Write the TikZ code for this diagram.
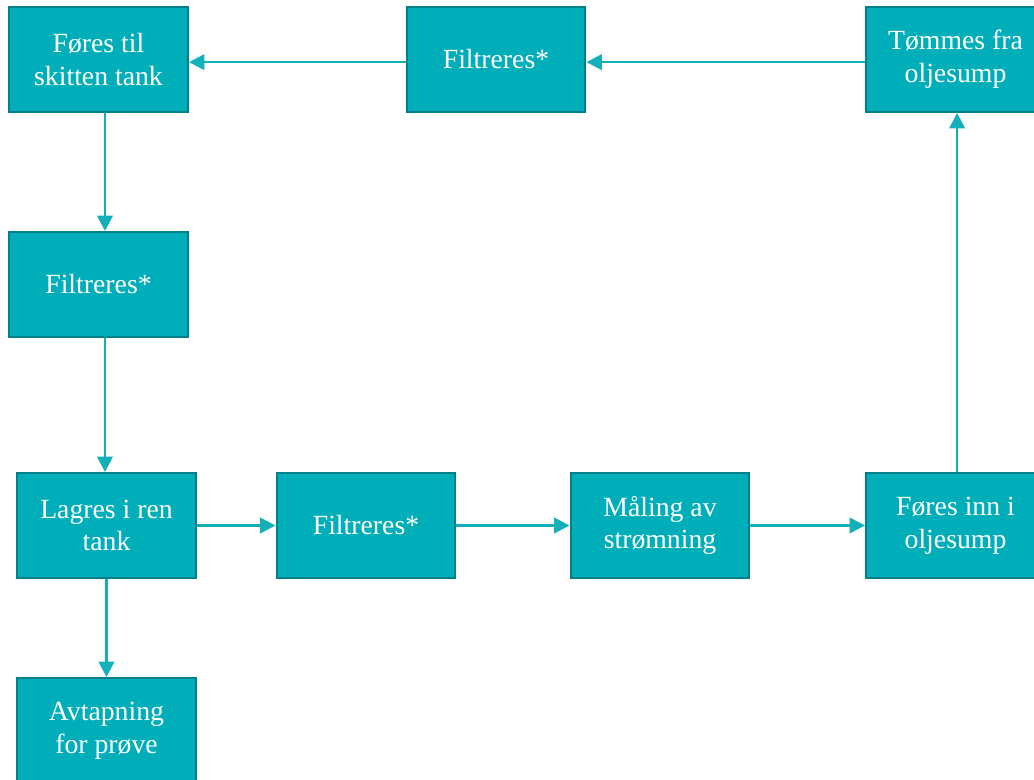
\documentclass[tikz,border=0pt]{standalone}
\usepackage{fontspec}
\setmainfont{Liberation Serif}
\definecolor{boxFill}{RGB}{0,174,185}
\definecolor{boxEdge}{RGB}{0,128,137}
\definecolor{flowLine}{RGB}{20,176,186}
\usetikzlibrary{arrows.meta,positioning}

\begin{document}
\begin{tikzpicture}[x=0.75pt,y=-0.75pt,
    box/.style={rectangle, draw=boxEdge, line width=1.7pt, fill=boxFill,
      text=white, minimum width=134pt, minimum height=78.5pt, inner sep=0pt,
      align=center, font=\fontsize{20.8}{24.5}\selectfont},
    flow/.style={-{Triangle[length=11.5pt,width=11.5pt]}, flowLine, line width=1.9pt}]
    % Frame
    \clip (0,0) rectangle (1034,780);
    \fill[white] (0,0) rectangle (1034,780);
    % Top row
    \node[box] (skitten) at (98.5,59.5) {Føres til\\skitten tank};
    \node[box] (filtTop) at (496,59.5) {Filtreres*};
    \node[box] (tommes) at (955.5,59.5) {Tømmes fra\\oljesump};
    % Left column
    \node[box] (filtLeft) at (98.5,284.5) {Filtreres*};
    \node[box] (lagres) at (106.5,525.5) {Lagres i ren\\tank};
    \node[box] (avtap) at (106.5,730.5) {Avtapning\\for prøve};
    % Bottom row
    \node[box] (filtMid) at (366,525.5) {Filtreres*};
    \node[box] (maling) at (660,525.5) {Måling av\\strømning};
    \node[box] (inn) at (955.5,525.5) {Føres inn i\\oljesump};
    % Flow
    \draw[flow] (lagres) -- (filtMid);
    \draw[flow] (filtMid) -- (maling);
    \draw[flow] (maling) -- (inn);
    \draw[flow] ([xshift=1.2pt]inn.north) -- ([xshift=1.2pt]tommes.south);
    \draw[flow] ([yshift=-2pt]tommes.west) -- ([yshift=-2pt]filtTop.east);
    \draw[flow] ([yshift=-2pt]filtTop.west) -- ([yshift=-2pt]skitten.east);
    \draw[flow] (skitten.south -| lagres.north) ++(-1.5,0) coordinate (aDown) -- (aDown |- filtLeft.north);
    \draw[flow] (filtLeft.south -| lagres.north) ++(-1.5,0) coordinate (bDown) -- (bDown |- lagres.north);
    \draw[flow] (lagres) -- (avtap);
  \end{tikzpicture}
\end{document}
